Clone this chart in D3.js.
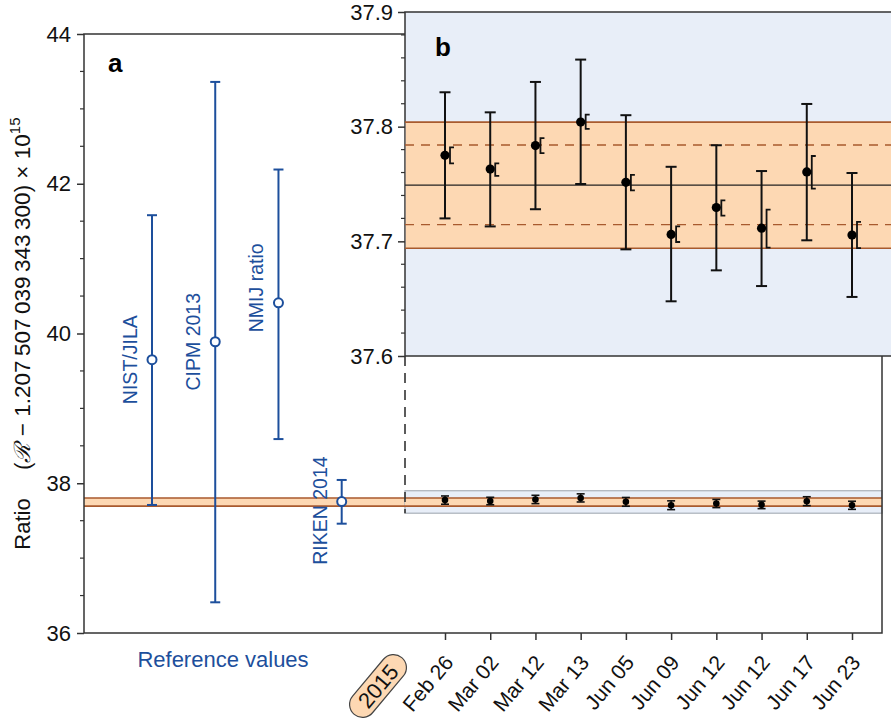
<!DOCTYPE html>
<html>
<head>
<meta charset="utf-8">
<script src="https://cdn.jsdelivr.net/npm/d3@7"></script>
<style>
  html, body { margin: 0; padding: 0; background: #fff; }
  svg { display: block; font-family: "Liberation Sans", Arial, sans-serif; }
</style>
</head>
<body>
<svg id="chart" width="891" height="727"></svg>
<script>
// ---------------- DATA ----------------
const refNames  = ["NIST/JILA", "CIPM 2013", "NMIJ ratio", "RIKEN 2014"];
const refValues = [39.65, 39.89, 40.41, 37.755];
const refUpper  = [41.58, 43.36, 42.19, 38.044];
const refLower  = [37.71, 36.41, 38.59, 37.46];

const dates      = ["Feb 26", "Mar 02", "Mar 12", "Mar 13", "Jun 05", "Jun 09", "Jun 12", "Jun 12", "Jun 17", "Jun 23"];
const measValue  = [37.775, 37.763, 37.7835, 37.804, 37.7515, 37.706, 37.7295, 37.7115, 37.7605, 37.7055];
const measUpper  = [37.830, 37.8125, 37.839, 37.8585, 37.810, 37.765, 37.7838, 37.7613, 37.8198, 37.7596];
const measLower  = [37.720, 37.713, 37.728, 37.750, 37.693, 37.6477, 37.6747, 37.661, 37.7009, 37.6515];
const sysUpper   = [37.782, 37.768, 37.790, 37.8105, 37.758, 37.713, 37.7358, 37.7277, 37.7744, 37.717];
const sysLower   = [37.768, 37.757, 37.777, 37.798, 37.7445, 37.6994, 37.7224, 37.6945, 37.746, 37.694];

const bandCenter = 37.749;
const bandStat   = [37.7145, 37.784];
const bandTotal  = [37.694, 37.804];

const mainTicks  = [36, 38, 40, 42, 44];
const insetTicks = [37.6, 37.7, 37.8, 37.9];
const insetDomain = [37.6, 37.9];
const yearLabel = "2015";

// ---------------- LAYOUT ----------------
const svg = d3.select("#chart");
const M = { left: 84, right: 882, top: 34, bottom: 633 };
const INS = { left: 405, right: 891, top: 12, bottom: 356 };

const blue = "#1d4f9c";
const bandFill = "#fdd8b3";
const bandLine = "#a85a2e";
const axisCol = "#333";
const insetBg = "#e8eef8";

const y = d3.scaleLinear().domain([36, 44]).range([M.bottom, M.top]);
const yi = d3.scaleLinear().domain(insetDomain).range([INS.bottom, INS.top]);
const xRef = d3.scalePoint().domain(d3.range(refNames.length)).range([152, 341.7]);
const xDate = d3.scalePoint().domain(d3.range(dates.length)).range([445, 852]);

// ---------- MAIN PANEL ----------
svg.append("rect").attr("x", M.left).attr("width", M.right - M.left)
  .attr("y", y(bandTotal[1])).attr("height", y(bandTotal[0]) - y(bandTotal[1]))
  .attr("fill", bandFill);

svg.append("rect").attr("x", INS.left).attr("width", M.right - INS.left)
  .attr("y", y(insetDomain[1])).attr("height", y(insetDomain[0]) - y(insetDomain[1]))
  .attr("fill", insetBg).attr("stroke", "#a9afb8").attr("stroke-width", 1.2);
svg.append("rect").attr("x", INS.left).attr("width", M.right - INS.left)
  .attr("y", y(bandTotal[1])).attr("height", y(bandTotal[0]) - y(bandTotal[1]))
  .attr("fill", bandFill);
bandTotal.forEach(v => {
  svg.append("line").attr("x1", M.left).attr("x2", M.right)
    .attr("y1", y(v)).attr("y2", y(v)).attr("stroke", bandLine).attr("stroke-width", 1.6);
});

svg.append("line").attr("x1", INS.left).attr("x2", INS.left)
  .attr("y1", INS.bottom).attr("y2", y(insetDomain[0]))
  .attr("stroke", "#333").attr("stroke-width", 1.6).attr("stroke-dasharray", "10,7");

svg.append("rect").attr("x", M.left).attr("y", M.top)
  .attr("width", M.right - M.left).attr("height", M.bottom - M.top)
  .attr("fill", "none").attr("stroke", axisCol).attr("stroke-width", 1.5);

const yAxis = d3.axisLeft(y).tickValues(mainTicks).tickSize(7).tickPadding(6).tickFormat(d3.format("d"));
const gy = svg.append("g").attr("transform", `translate(${M.left},0)`).call(yAxis);
gy.select(".domain").remove();
gy.selectAll("line").attr("stroke", axisCol).attr("stroke-width", 1.5);
gy.selectAll("text").attr("font-size", 22).attr("fill", "#111").attr("font-family", "Liberation Sans, Arial, sans-serif");
const minorMain = d3.range(36, 44.01, 0.5).filter(v => !mainTicks.includes(v));
svg.append("g").selectAll("line").data(minorMain).join("line")
  .attr("x1", M.left - 4).attr("x2", M.left).attr("y1", d => y(d)).attr("y2", d => y(d))
  .attr("stroke", axisCol).attr("stroke-width", 1.2);

const xAxis = d3.axisBottom(xDate).tickSize(7).tickFormat(i => dates[i]);
const gx = svg.append("g").attr("transform", `translate(0,${M.bottom})`).call(xAxis);
gx.select(".domain").remove();
gx.selectAll("line").attr("stroke", axisCol).attr("stroke-width", 1.5);
gx.selectAll("text")
  .attr("font-size", 21).attr("fill", "#111").attr("font-family", "Liberation Sans, Arial, sans-serif")
  .attr("text-anchor", "end").attr("y", 0).attr("dy", 0)
  .attr("transform", "translate(9,30) rotate(-50)");

const pill = svg.append("g").attr("transform", "translate(378,686) rotate(-50)");
pill.append("rect").attr("x", -37).attr("y", -13).attr("width", 74).attr("height", 26)
  .attr("rx", 13).attr("fill", bandFill).attr("stroke", "#444").attr("stroke-width", 1.2);
pill.append("text").attr("text-anchor", "middle").attr("dy", "0.36em")
  .attr("font-size", 22).attr("fill", "#111").text(yearLabel);

svg.append("text").attr("x", 223).attr("y", 667).attr("text-anchor", "middle")
  .attr("font-size", 22).attr("fill", blue).text("Reference values");

svg.append("text").attr("transform", "translate(30,524) rotate(-90)")
  .attr("text-anchor", "middle").attr("font-size", 22).attr("fill", "#111").text("Ratio");
const yt = svg.append("text").attr("transform", "translate(30,470) rotate(-90)")
  .attr("text-anchor", "start").attr("font-size", 22.5).attr("fill", "#111");
yt.append("tspan").text("(");
yt.append("tspan").attr("font-style", "italic").attr("font-family", "DejaVu Serif, serif").text("\u211B");
yt.append("tspan").text(" \u2212 1.207\u2009507\u2009039\u2009343\u2009300) \u00D7 10");
yt.append("tspan").attr("font-size", 15).attr("dy", -10).text("15");

svg.append("text").attr("x", 108).attr("y", 72).attr("font-size", 26).attr("font-weight", "bold").text("a");

const refG = svg.append("g");
refNames.forEach((n, i) => {
  const cx = xRef(i);
  refG.append("line").attr("x1", cx).attr("x2", cx).attr("y1", y(refUpper[i])).attr("y2", y(refLower[i]))
    .attr("stroke", blue).attr("stroke-width", 2);
  [refUpper[i], refLower[i]].forEach(v => {
    refG.append("line").attr("x1", cx - 5).attr("x2", cx + 5).attr("y1", y(v)).attr("y2", y(v))
      .attr("stroke", blue).attr("stroke-width", 2);
  });
  refG.append("circle").attr("cx", cx).attr("cy", y(refValues[i])).attr("r", 4.5)
    .attr("fill", "#fff").attr("stroke", blue).attr("stroke-width", 2);
});
const labelNudge = [0, 0, -15, 9];
refNames.forEach((n, i) => {
  svg.append("text")
    .attr("transform", `translate(${xRef(i) - 15},${y(refValues[i]) + labelNudge[i]}) rotate(-90)`)
    .attr("text-anchor", "middle").attr("font-size", 19.5).attr("fill", blue).text(n);
});

const smallG = svg.append("g");
dates.forEach((d, i) => {
  const cx = xDate(i);
  smallG.append("line").attr("x1", cx).attr("x2", cx).attr("y1", y(measUpper[i])).attr("y2", y(measLower[i]))
    .attr("stroke", "#111").attr("stroke-width", 1.6);
  [measUpper[i], measLower[i]].forEach(v => {
    smallG.append("line").attr("x1", cx - 4).attr("x2", cx + 4).attr("y1", y(v)).attr("y2", y(v))
      .attr("stroke", "#111").attr("stroke-width", 1.6);
  });
  smallG.append("circle").attr("cx", cx).attr("cy", y(measValue[i])).attr("r", 3.3).attr("fill", "#000");
});

// ---------- INSET ----------
const ins = svg.append("g");
ins.append("rect").attr("x", INS.left).attr("y", INS.top)
  .attr("width", INS.right - INS.left + 5).attr("height", INS.bottom - INS.top)
  .attr("fill", insetBg).attr("stroke", axisCol).attr("stroke-width", 1.5);
ins.append("rect").attr("x", INS.left + 0.75).attr("width", INS.right - INS.left)
  .attr("y", yi(bandTotal[1])).attr("height", yi(bandTotal[0]) - yi(bandTotal[1]))
  .attr("fill", bandFill);
bandTotal.forEach(v => {
  ins.append("line").attr("x1", INS.left).attr("x2", INS.right).attr("y1", yi(v)).attr("y2", yi(v))
    .attr("stroke", bandLine).attr("stroke-width", 1.6);
});
bandStat.forEach(v => {
  ins.append("line").attr("x1", INS.left).attr("x2", INS.right).attr("y1", yi(v)).attr("y2", yi(v))
    .attr("stroke", bandLine).attr("stroke-width", 1.3).attr("stroke-dasharray", "9,7");
});
ins.append("line").attr("x1", INS.left).attr("x2", INS.right).attr("y1", yi(bandCenter)).attr("y2", yi(bandCenter))
  .attr("stroke", "#222").attr("stroke-width", 1.4);

const yiAxis = d3.axisLeft(yi).tickValues(insetTicks).tickSize(7).tickPadding(5).tickFormat(d3.format(".1f"));
const giy = ins.append("g").attr("transform", `translate(${INS.left},0)`).call(yiAxis);
giy.select(".domain").remove();
giy.selectAll("line").attr("stroke", axisCol).attr("stroke-width", 1.5);
giy.selectAll("text").attr("font-size", 22).attr("fill", "#111").attr("font-family", "Liberation Sans, Arial, sans-serif");
const minorIns = d3.range(0, 16).map(k => 37.6 + k * 0.02).filter(v => Math.abs(Math.round(v * 10) / 10 - v) > 1e-6);
ins.append("g").selectAll("line").data(minorIns).join("line")
  .attr("x1", INS.left - 4).attr("x2", INS.left).attr("y1", d => yi(d)).attr("y2", d => yi(d))
  .attr("stroke", axisCol).attr("stroke-width", 1.2);

ins.append("text").attr("x", 435).attr("y", 56).attr("font-size", 26).attr("font-weight", "bold").text("b");

dates.forEach((d, i) => {
  const cx = xDate(i);
  ins.append("line").attr("x1", cx).attr("x2", cx).attr("y1", yi(measUpper[i])).attr("y2", yi(measLower[i]))
    .attr("stroke", "#111").attr("stroke-width", 2);
  [measUpper[i], measLower[i]].forEach(v => {
    ins.append("line").attr("x1", cx - 5.5).attr("x2", cx + 5.5).attr("y1", yi(v)).attr("y2", yi(v))
      .attr("stroke", "#111").attr("stroke-width", 2);
  });
  const bx = cx + 5, by1 = yi(sysUpper[i]), by2 = yi(sysLower[i]);
  ins.append("path").attr("d", `M${bx + 4},${by1}H${bx}V${by2}H${bx + 4}`)
    .attr("fill", "none").attr("stroke", "#111").attr("stroke-width", 1.8);
  ins.append("circle").attr("cx", cx).attr("cy", yi(measValue[i])).attr("r", 4.6).attr("fill", "#000");
});
</script>
</body>
</html>
